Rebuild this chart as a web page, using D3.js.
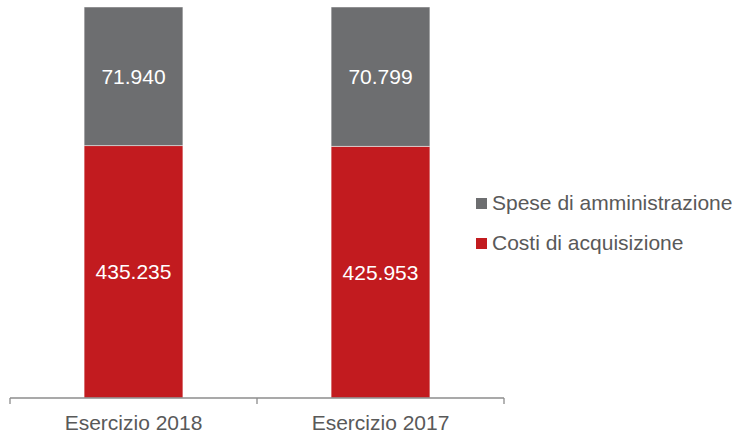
<!DOCTYPE html>
<html>
<head>
<meta charset="utf-8">
<script src="https://cdn.jsdelivr.net/npm/d3@7"></script>
<style>
  body { margin: 0; background: #fff; }
  text { font-family: "Liberation Sans", Arial, sans-serif; }
</style>
</head>
<body>
<div id="chart"></div>
<script>
// data
var categories = ["Esercizio 2018", "Esercizio 2017"];
var costiAcquisizione = [435.235, 425.953];
var speseAmministrazione = [71.940, 70.799];
var seriesNames = ["Costi di acquisizione", "Spese di amministrazione"];
var seriesColors = ["#c21b1f", "#6d6e70"];

var svgWidth = 739, svgHeight = 436;

// plot area
var margin = { top: 7, left: 10, right: 235, bottom: 38 };
var chartWidth = svgWidth - margin.left - margin.right;
var chartHeight = svgHeight - margin.top - margin.bottom;

var svg = d3.select("#chart").append("svg")
    .attr("width", svgWidth)
    .attr("height", svgHeight);

var chartGroup = svg.append("g")
    .attr("transform", `translate(${margin.left}, ${margin.top})`);

// 100% stacked, each series as share of the total
var rows = categories.map(function(c, i) {
    var tot = costiAcquisizione[i] + speseAmministrazione[i];
    return { cat: c, costi: costiAcquisizione[i] / tot, spese: speseAmministrazione[i] / tot,
             costiVal: costiAcquisizione[i], speseVal: speseAmministrazione[i] };
});

var stack = d3.stack().keys(["costi", "spese"]);
var stacked = stack(rows);

var xScale = d3.scaleBand()
    .domain(categories)
    .range([0, chartWidth])
    .paddingInner(0.6)
    .paddingOuter(0.3);

// the value axis does not start at zero
var yScale = d3.scaleLinear()
    .domain([0.6, 1])
    .range([chartHeight, 0]);

var fmt = function(v) { return v.toFixed(3); };

stacked.forEach(function(layer, si) {
    var g = chartGroup.append("g");
    g.selectAll("rect")
        .data(layer)
        .enter()
        .append("rect")
        .attr("x", d => xScale(d.data.cat))
        .attr("width", xScale.bandwidth())
        .attr("y", d => yScale(Math.min(d[1], 1)))
        .attr("height", d => yScale(Math.max(d[0], 0.6)) - yScale(Math.min(d[1], 1)))
        .attr("fill", seriesColors[si])
        .attr("stroke", "#ffffff")
        .attr("stroke-opacity", 0.6)
        .attr("stroke-width", 0.8);

    g.selectAll("text")
        .data(layer)
        .enter()
        .append("text")
        .attr("x", d => xScale(d.data.cat) + xScale.bandwidth() / 2)
        .attr("y", d => (yScale(Math.max(d[0], 0.6)) + yScale(Math.min(d[1], 1))) / 2)
        .attr("dy", "0.36em")
        .attr("text-anchor", "middle")
        .attr("font-size", "21px")
        .attr("fill", "#ffffff")
        .text(d => fmt(si === 0 ? d.data.costiVal : d.data.speseVal));
});

// x axis with ticks at band edges
var axisG = chartGroup.append("g")
    .attr("transform", `translate(0, ${chartHeight})`);

axisG.append("line")
    .attr("x1", 0).attr("x2", chartWidth)
    .attr("y1", 0).attr("y2", 0)
    .attr("stroke", "#8c8c8c")
    .attr("stroke-width", 1.3);

var edges = [0].concat(categories.map(function(c, i) { return chartWidth * (i + 1) / categories.length; }));
axisG.selectAll(".tick")
    .data(edges)
    .enter()
    .append("line")
    .attr("x1", d => d).attr("x2", d => d)
    .attr("y1", 0).attr("y2", 6)
    .attr("stroke", "#8c8c8c")
    .attr("stroke-width", 1.3);

axisG.selectAll(".lbl")
    .data(categories)
    .enter()
    .append("text")
    .attr("x", d => xScale(d) + xScale.bandwidth() / 2)
    .attr("y", 32)
    .attr("text-anchor", "middle")
    .attr("font-size", "21px")
    .attr("fill", "#595959")
    .text(d => d);

// legend
var legendItems = [1, 0];
var legend = svg.append("g")
    .attr("transform", "translate(476, 198)");

legendItems.forEach(function(si, i) {
    var row = legend.append("g").attr("transform", `translate(0, ${i * 40})`);
    row.append("rect")
        .attr("width", 11).attr("height", 11)
        .attr("fill", seriesColors[si]);
    row.append("text")
        .attr("x", 16)
        .attr("y", 12)
        .attr("font-size", "21px")
        .attr("fill", "#595959")
        .text(seriesNames[si]);
});
</script>
</body>
</html>
